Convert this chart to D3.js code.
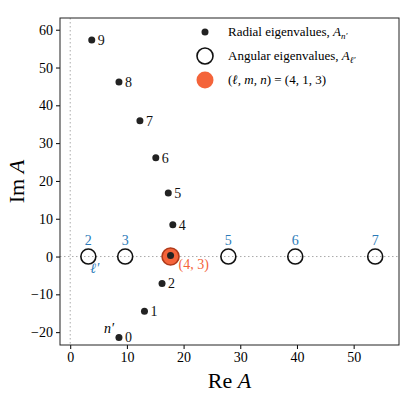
<!DOCTYPE html>
<html><head><meta charset="utf-8">
<script src="https://cdn.jsdelivr.net/npm/d3@7"></script>
<style>body{margin:0;background:#fff}text{font-family:"Liberation Serif",serif}</style>
</head><body><svg width="400" height="400"></svg>
<script>
// radial eigenvalues A_n', n' = 0..9
var radialN = [0,1,2,3,4,5,6,7,8,9];
var radialRe = [8.6,13.1,16.2,17.7,18.1,17.3,15.1,12.3,8.6,3.8];
var radialIm = [-21.4,-14.5,-7.1,0.3,8.4,16.8,26.1,35.9,46.2,57.3];
// angular eigenvalues A_l', l' = 2..7
var angL = [2,3,4,5,6,7];
var angRe = [3.2,9.7,17.7,27.9,39.7,53.8];
var xTicks = [0,10,20,30,40,50];
var yTicks = [-20,-10,0,10,20,30,40,50,60];

var svg = d3.select("svg");
var m = {l:60, r:399, t:18, b:345};
var x = d3.scaleLinear().domain([-1.8,58]).range([m.l,m.r]);
var y = d3.scaleLinear().domain([-23.4,63.1]).range([m.b,m.t]);

svg.append("line").attr("x1",x(0)).attr("x2",x(0)).attr("y1",m.t).attr("y2",m.b)
  .attr("stroke","#aaa").attr("stroke-dasharray","1.5,2.5");
svg.append("line").attr("x1",m.l).attr("x2",m.r).attr("y1",y(0)).attr("y2",y(0))
  .attr("stroke","#aaa").attr("stroke-dasharray","1.5,2.5");

var ax = svg.append("g").attr("transform","translate(0,"+m.b+")")
  .call(d3.axisBottom(x).tickValues(xTicks).tickSize(4).tickSizeOuter(0));
var ay = svg.append("g").attr("transform","translate("+m.l+",0)")
  .call(d3.axisLeft(y).tickValues(yTicks).tickSize(4).tickSizeOuter(0));
[ax,ay].forEach(function(a){a.select(".domain").remove();a.selectAll("text").attr("font-size",14).attr("font-family","Liberation Serif");});
svg.append("rect").attr("x",m.l).attr("y",m.t).attr("width",m.r-m.l).attr("height",m.b-m.t)
  .attr("fill","none").attr("stroke","#222");

svg.append("text").attr("x",(m.l+m.r)/2).attr("y",388).attr("text-anchor","middle").attr("font-size",22)
  .html('Re <tspan font-style="italic">A</tspan>');
svg.append("text").attr("transform","translate(24,"+((m.t+m.b)/2)+") rotate(-90)").attr("text-anchor","middle").attr("font-size",22)
  .html('Im <tspan font-style="italic">A</tspan>');

// angular circles
svg.selectAll(".ang").data(angL).enter().append("circle")
  .attr("cx",function(d,i){return x(angRe[i]);}).attr("cy",y(0)).attr("r",function(d){return d===4?8.5:7.5;})
  .attr("fill",function(d){return d===4?"#f4643a":"none";})
  .attr("stroke",function(d){return d===4?"#b03a1a":"#111";}).attr("stroke-width",1.6);
svg.selectAll(".al").data(angL.filter(function(d){return d!==4;})).enter().append("text")
  .attr("x",function(d){return x(angRe[angL.indexOf(d)]);}).attr("y",y(0)-12)
  .attr("text-anchor","middle").attr("font-size",14).attr("fill","#2a7ab8").text(function(d){return d;});
svg.append("text").attr("x",x(angRe[0])+2).attr("y",y(0)+16).attr("font-size",14).attr("font-style","italic").attr("fill","#2a7ab8").text("ℓ′");

// radial points
svg.selectAll(".rad").data(radialN).enter().append("circle")
  .attr("cx",function(d,i){return x(radialRe[i]);}).attr("cy",function(d,i){return y(radialIm[i]);})
  .attr("r",3.5).attr("fill","#222");
svg.selectAll(".rl").data(radialN.filter(function(d){return d!==3;})).enter().append("text")
  .attr("x",function(d){return x(radialRe[d])+6;}).attr("y",function(d){return y(radialIm[d])+5;})
  .attr("font-size",14).attr("fill","#111").text(function(d){return d;});
svg.append("text").attr("x",x(radialRe[0])-15).attr("y",y(radialIm[0])-4).attr("font-size",14).attr("font-style","italic").text("n′");
svg.append("text").attr("x",x(angRe[2])+8).attr("y",y(0)+12).attr("font-size",14).attr("fill","#f4643a").html('(4, 3)');

// legend
var lg = svg.append("g").attr("font-size",13);
lg.append("circle").attr("cx",205).attr("cy",32).attr("r",3.5).attr("fill","#222");
lg.append("text").attr("x",228).attr("y",36).html('Radial eigenvalues, <tspan font-style="italic">A</tspan><tspan font-size="9" dy="3" font-style="italic">n′</tspan>');
lg.append("circle").attr("cx",205).attr("cy",56).attr("r",8).attr("fill","none").attr("stroke","#111").attr("stroke-width",1.6);
lg.append("text").attr("x",228).attr("y",60).html('Angular eigenvalues, <tspan font-style="italic">A</tspan><tspan font-size="9" dy="3" font-style="italic">ℓ′</tspan>');
lg.append("circle").attr("cx",205).attr("cy",80).attr("r",8.5).attr("fill","#f4643a");
lg.append("text").attr("x",228).attr("y",84).html('(<tspan font-style="italic">ℓ, m, n</tspan>) = (4, 1, 3)');
</script></body></html>
